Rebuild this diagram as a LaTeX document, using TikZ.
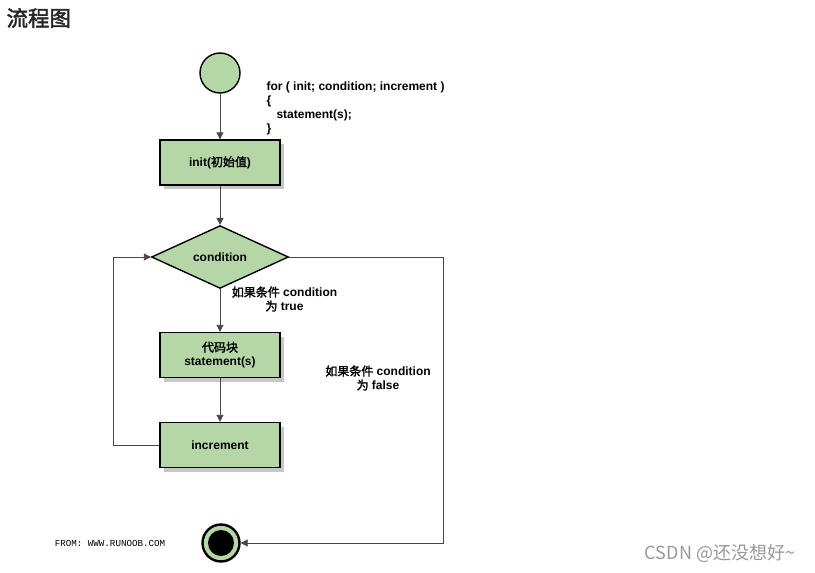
\documentclass[tikz,border=0pt]{standalone}
\usepackage{fontspec}
\setmainfont{Liberation Sans}
\newfontfamily\cjk[AutoFakeBold=2]{Noto Sans CJK SC}
\newfontfamily\cjkplain{Noto Sans CJK SC}
\newfontfamily\runoobmono{Liberation Mono}
\usetikzlibrary{shadows, shapes.geometric, arrows.meta}

\definecolor{flowgreen}{RGB}{181,215,168}
\definecolor{flowline}{RGB}{70,70,70}

\tikzset{
  flowtext/.style={font=\bfseries\fontsize{12}{14}\selectfont, align=center},
  stepbox/.style={flowtext, draw, line width=1.4pt, fill=flowgreen,
    minimum width=120pt, minimum height=45pt, inner sep=0pt,
    drop shadow={shadow xshift=4pt, shadow yshift=-4pt, fill=black!22, opacity=1}},
  decision/.style={flowtext, diamond, draw, line width=1.4pt, fill=flowgreen,
    minimum width=137pt, minimum height=60pt, inner sep=0pt},
  startdot/.style={circle, draw, line width=1.4pt, fill=flowgreen,
    minimum size=40pt, inner sep=0pt},
  enddot/.style={circle, draw, line width=2.4pt, fill=flowgreen,
    minimum size=37pt, inner sep=0pt},
  flow/.style={draw=flowline, line width=0.9pt, -{Triangle[length=7pt,width=7pt]}}
}

\begin{document}
\begin{tikzpicture}[x=1pt, y=-1pt]
  % Page frame
  \useasboundingbox[fill=white] (0,0) rectangle (815,573);

  \node[anchor=west, font=\cjk\bfseries\fontsize{21.5}{24}\selectfont, text=black!85] (title) at (3,18) {流程图};

  % Create nodes
  \node[startdot] (start) at (220,73) {};
  \node[stepbox] (init) at (220,162.5) {init({\cjk 初始值})};
  \node[decision] (cond) at (220,257) {condition};
  \node[stepbox] (body) at (220,355) {{\cjk 代码块}\\statement(s)};
  \node[stepbox] (inc) at (220,445) {increment};
  \node[enddot] (stop) at (221,543) {};
  \fill (stop.center) circle (13pt);

  % Texts
  \node[flowtext, anchor=north west, align=left] (code) at (263,78)
    {for ( init; condition; increment )\\\{\\\hspace{10pt}statement(s);\\\}};
  \node[flowtext] (truelbl) at (284.5,299) {{\cjk 如果条件} condition\\{\cjk 为} true};
  \node[flowtext] (falselbl) at (378,378) {{\cjk 如果条件} condition\\{\cjk 为} false};
  \node[font=\runoobmono\fontsize{9.2}{10}\selectfont] (from) at (110,543) {FROM: WWW.RUNOOB.COM};
  \node[font=\cjkplain\fontsize{18}{20}\selectfont, text=black!40] (mark) at (720,553) {CSDN @还没想好\textasciitilde};

  % Connections
  \draw[flow] (start) -- (init);
  \draw[flow] (init) -- (cond);
  \draw[flow] (cond) -- (body);
  \draw[flow] (body) -- (inc);
  \coordinate (loopcorner) at (113,445);
  \draw[flow] (inc.west) -- (loopcorner) |- (cond.west);
  \coordinate (exitcorner) at (443,257);
  \draw[flow] (cond.east) -- (exitcorner) |- (stop.east);
\end{tikzpicture}
\end{document}
